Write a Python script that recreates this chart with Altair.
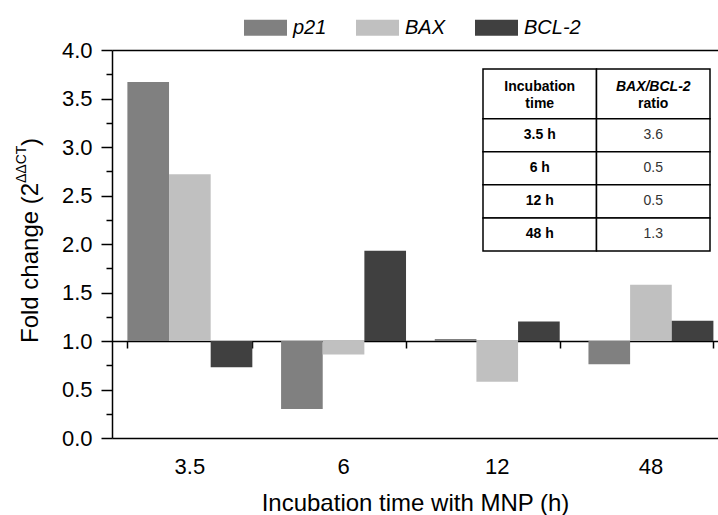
import altair as alt
import pandas as pd

# ---- data -------------------------------------------------------------
times = ["3.5", "6", "12", "48"]
genes = ["p21", "BAX", "BCL-2"]
gene_colors = ["#808080", "#c0c0c0", "#404040"]

p21_fold = [3.67, 0.30, 1.02, 0.76]
bax_fold = [2.72, 0.86, 0.58, 1.58]
bcl2_fold = [0.73, 1.93, 1.20, 1.21]

y_major = [0.0, 0.5, 1.0, 1.5, 2.0, 2.5, 3.0, 3.5, 4.0]
y_minor = [0.25, 0.75, 1.25, 1.75, 2.25, 2.75, 3.25, 3.75]

table_times = ["3.5 h", "6 h", "12 h", "48 h"]
table_ratios = ["3.6", "0.5", "0.5", "1.3"]
header_left = ["Incubation", "time"]
header_right = ["BAX/BCL-2", "ratio"]

# ---- layout -----------------------------------------------------------
W, H = 606, 388
PAD = {"left": 112, "top": 50, "right": 0, "bottom": 77}
FONT = "Liberation Sans"
BASELINE = 1.0

# inset table geometry (plot-area pixels) and row heights in table units
TAB_X = [371, 598]
TAB_Y = [19, 201]
HEADER_UNITS = 1.5
TABLE_UNITS = HEADER_UNITS + len(table_times)

rows = []
for g, vals in zip(genes, [p21_fold, bax_fold, bcl2_fold]):
    for t, v in zip(times, vals):
        rows.append({"time": t, "gene": g, "fold": v})
bars_df = pd.DataFrame(rows)

x_scale = alt.Scale(domain=times, paddingInner=0.187, paddingOuter=0.065, align=0.77)
y_scale = alt.Scale(domain=[0, 4], nice=False, zero=False)
line_style = dict(domainColor="black", domainWidth=1.5, tickColor="black", tickWidth=1.5)

# ---- bars around the 1.0 baseline ------------------------------------
bars = alt.Chart(bars_df).mark_bar().encode(
    x=alt.X(
        "time:N", scale=x_scale, sort=times,
        axis=alt.Axis(
            orient="bottom", ticks=False, tickSize=0, labelAngle=0,
            labelFont=FONT, labelFontSize=22, labelColor="black", labelPadding=18,
            title="Incubation time with MNP (h)", titleFont=FONT, titleFontSize=24,
            titleFontWeight="normal", titleColor="black", titlePadding=14,
            grid=False, domainColor="black", domainWidth=1.5,
        ),
    ),
    xOffset=alt.XOffset("gene:N", sort=genes,
                        scale=alt.Scale(domain=genes, paddingInner=0, paddingOuter=0)),
    y=alt.Y(
        "fold:Q", scale=y_scale,
        axis=alt.Axis(
            orient="left", values=y_major, format=".1f", tickSize=11,
            labelFont=FONT, labelFontSize=22, labelColor="black", labelPadding=9,
            grid=False, title=None, **line_style,
        ),
    ),
    y2=alt.datum(BASELINE),
    color=alt.Color(
        "gene:N", sort=genes,
        scale=alt.Scale(domain=genes, range=gene_colors),
        legend=alt.Legend(
            orient="none", legendX=132, legendY=-44, direction="horizontal", columns=3,
            title=None, symbolType="M-1,-0.37H1V0.37H-1Z", symbolSize=1849,
            symbolStrokeWidth=0, symbolOpacity=1, labelOffset=6, columnPadding=29,
            labelFont=FONT, labelFontSize=20, labelFontStyle="italic", labelColor="black",
        ),
    ),
)

# ---- x ticks along the baseline and minor y ticks ---------------------
baseline_axis = alt.Chart(bars_df).mark_point(opacity=0).encode(
    x=alt.X(
        "time:N", scale=x_scale, sort=times,
        axis=alt.Axis(
            orient="bottom", offset=-H * BASELINE / 4, tickBand="extent", labels=False,
            tickSize=7, title=None, grid=False, **line_style,
        ),
    ),
    y=alt.Y(
        "fold:Q", scale=y_scale,
        axis=alt.Axis(
            orient="left", values=y_minor, labels=False, domain=False, tickSize=6,
            tickColor="black", tickWidth=1.5, title=None, grid=False,
        ),
    ),
)

# ---- top frame line ----------------------------------------------------
top_frame = alt.Chart(bars_df).mark_point(opacity=0).encode(
    x=alt.X(
        "time:N", scale=x_scale, sort=times,
        axis=alt.Axis(orient="top", ticks=False, labels=False, title=None,
                      grid=False, domainColor="black", domainWidth=1.5),
    ),
    y=alt.Y("fold:Q", scale=y_scale, axis=None),
)

# ---- y title with superscript ------------------------------------------
title_main = alt.Chart(pd.DataFrame({"t": ["Fold change (2"]})).mark_text(
    angle=270, align="left", baseline="alphabetic", font=FONT, fontSize=24, color="black"
).encode(text="t:N", x=alt.value(-74), y=alt.value(293))

title_sup = alt.Chart(pd.DataFrame({"t": ["ΔΔCT"]})).mark_text(
    angle=270, align="left", baseline="alphabetic", font=FONT, fontSize=14, color="black"
).encode(text="t:N", x=alt.value(-86), y=alt.value(133))

title_close = alt.Chart(pd.DataFrame({"t": [")"]})).mark_text(
    angle=270, align="left", baseline="alphabetic", font=FONT, fontSize=24, color="black"
).encode(text="t:N", x=alt.value(-74), y=alt.value(96))

# ---- inset table ---------------------------------------------------------
def tab_x(field):
    return alt.X(field, type="quantitative", axis=None,
                 scale=alt.Scale(domain=[0, 2], range=TAB_X, nice=False, zero=False))


def tab_y(field):
    return alt.Y(field, type="quantitative", axis=None,
                 scale=alt.Scale(domain=[0, TABLE_UNITS], range=TAB_Y, nice=False, zero=False))


cells = []
row_edges = [0.0, HEADER_UNITS] + [HEADER_UNITS + i + 1 for i in range(len(table_times))]
for r in range(len(row_edges) - 1):
    for c in range(2):
        cells.append({"c0": c, "c1": c + 1, "r0": row_edges[r], "r1": row_edges[r + 1]})
cells_df = pd.DataFrame(cells)

table_cells = alt.Chart(cells_df).mark_rect(fill="white", stroke="black", strokeWidth=1.5).encode(
    x=tab_x("c0"), x2="c1", y=tab_y("r0"), y2="r1"
)

line_pos = [0.53, 1.06]
header_df = pd.DataFrame({
    "col": [0.5, 0.5, 1.5],
    "row": [line_pos[0], line_pos[1], line_pos[1]],
    "label": [header_left[0], header_left[1], header_right[1]],
})
row_mid = [HEADER_UNITS + i + 0.5 for i in range(len(table_times))]
rowlab_df = pd.DataFrame({"col": [0.5] * len(table_times), "row": row_mid, "label": table_times})
ratio_df = pd.DataFrame({"col": [1.5] * len(table_ratios), "row": row_mid, "label": table_ratios})
italic_df = pd.DataFrame({"col": [1.5], "row": [line_pos[0]], "label": [header_right[0]]})


def table_text(df, **style):
    return alt.Chart(df).mark_text(font=FONT, fontSize=14, baseline="middle", align="center",
                                   **style).encode(x=tab_x("col"), y=tab_y("row"), text="label:N")


header_text = table_text(header_df, fontWeight="bold", color="black")
italic_text = table_text(italic_df, fontWeight="bold", fontStyle="italic", color="black")
rowlab_text = table_text(rowlab_df, fontWeight="bold", color="black")
ratio_text = table_text(ratio_df, color="#333333")

chart = (
    alt.layer(
        bars, baseline_axis, top_frame,
        table_cells, header_text, italic_text, rowlab_text, ratio_text,
        title_main, title_sup, title_close,
    )
    .resolve_scale(x="independent", y="independent")
    .resolve_axis(x="independent", y="independent")
    .properties(width=W, height=H, padding=PAD, background="white",
                autosize=alt.AutoSizeParams(type="none"))
    .configure_view(stroke=None)
)

chart.save("out.html", embed_options={"renderer": "svg", "actions": False})
